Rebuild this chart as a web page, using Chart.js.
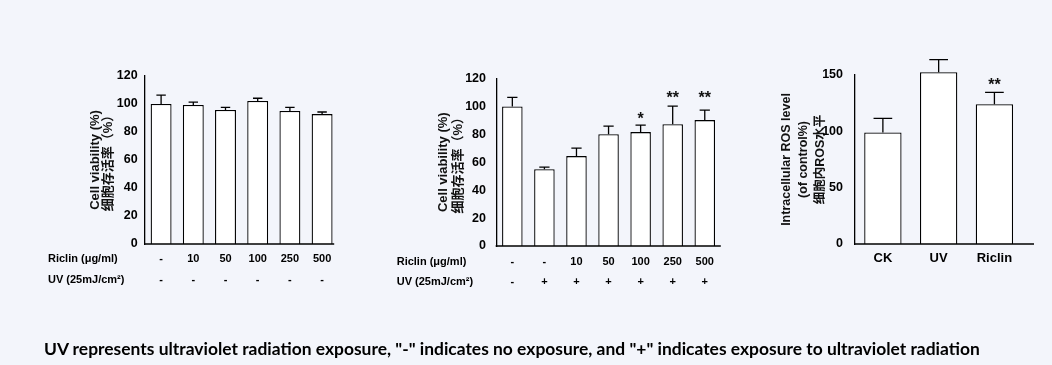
<!DOCTYPE html>
<html><head><meta charset="utf-8">
<script src="https://cdn.jsdelivr.net/npm/chart.js@4.4.1/dist/chart.umd.min.js"></script>
<style>
html,body{margin:0;padding:0;background:#f3f5fb;width:1052px;height:365px;overflow:hidden;}
canvas{position:absolute;left:0;top:0;}
#cap{position:absolute;left:44px;top:337px;font-family:Lato,'Liberation Sans',sans-serif;font-weight:700;font-size:17px;color:#000;white-space:nowrap;line-height:24px;}
</style></head><body>
<canvas id="c1" width="1052" height="365"></canvas>
<canvas id="c2" width="1052" height="365"></canvas>
<canvas id="c3" width="1052" height="365"></canvas>
<div id="cap">UV represents ultraviolet radiation exposure, "-" indicates no exposure, and "+" indicates exposure to ultraviolet radiation</div>
<script>
// ---- Panel 1: Riclin alone ----
const p1Riclin = ['-', '10', '50', '100', '250', '500'];
const p1UV     = ['-', '-', '-', '-', '-', '-'];
const p1Mean   = [100, 99.3, 95.7, 102.1, 95.0, 92.8];
const p1SD     = [6.4, 2.1, 1.9, 2.0, 2.6, 1.5];
const p1YTicks = {min: 0, max: 120, step: 20};

// ---- Panel 2: Riclin + UV ----
const p2Riclin = ['-', '-', '10', '50', '100', '250', '500'];
const p2UV     = ['-', '+', '+', '+', '+', '+', '+'];
const p2Mean   = [100, 55.0, 64.4, 80.1, 81.6, 87.3, 90.2];
const p2SD     = [6.5, 1.5, 5.7, 5.8, 5.0, 12.9, 7.2];
const p2Sig    = ['', '', '', '', '*', '**', '**'];
const p2SigY   = [null, null, null, null, 94, 109, 109];
const p2YTicks = {min: 0, max: 120, step: 20};

// ---- Panel 3: ROS ----
const p3Groups = ['CK', 'UV', 'Riclin'];
const p3Mean   = [99, 152.4, 124.0];
const p3SD     = [12.5, 11.2, 10.6];
const p3Sig    = ['', '', '**'];
const p3SigY   = [null, null, 145];
const p3YTicks = {min: 0, max: 150, step: 50};

const rowHeaders = ['Riclin (\u03bcg/ml)', 'UV (25mJ/cm\u00b2)'];

const FAM = "'Liberation Sans', Arial, 'Noto Sans CJK SC', sans-serif";

const barDeco = {
  id: 'barDeco',
  afterDatasetsDraw(chart, args, o) {
    const ctx = chart.ctx, meta = chart.getDatasetMeta(0), ys = chart.scales.y, xs = chart.scales.x;
    const ds = chart.data.datasets[0];
    const ca = chart.chartArea;
    ctx.save();
    ctx.strokeStyle = '#000';
    ctx.lineWidth = o.lineWidth;
    meta.data.forEach((bar, i) => {
      const top = ys.getPixelForValue(ds.data[i] + o.sd[i]);
      const half = bar.width * o.capRatio / 2;
      ctx.beginPath();
      ctx.moveTo(bar.x, bar.y);
      ctx.lineTo(bar.x, top);
      ctx.moveTo(bar.x - half, top);
      ctx.lineTo(bar.x + half, top);
      ctx.stroke();
      if (o.sig && o.sig[i]) {
        ctx.fillStyle = '#111';
        ctx.font = 'bold ' + o.sigSize + 'px ' + FAM;
        ctx.textAlign = 'center';
        ctx.textBaseline = 'alphabetic';
        const cy = ys.getPixelForValue(o.sigY[i]);
        ctx.fillText(o.sig[i], bar.x, cy + o.sigSize * 0.57);
      }
    });
    // x axis line
    ctx.beginPath();
    ctx.moveTo(ca.left - o.lineWidth / 2, ca.bottom);
    ctx.lineTo(ca.right + o.axisExtend, ca.bottom);
    ctx.stroke();
    // row headers
    if (o.headers) {
      ctx.fillStyle = '#000';
      ctx.font = 'bold ' + o.rowFont + 'px ' + FAM;
      ctx.textAlign = 'left';
      ctx.textBaseline = 'middle';
      o.headers.forEach((h, k) => {
        ctx.fillText(h, ca.left - o.headerOffset, xs.top + o.rowPad + o.rowLH / 2 + k * o.rowLH);
      });
    }
    ctx.restore();
  }
};

function makeChart(id, cfg) {
  return new Chart(document.getElementById(id), {
    type: 'bar',
    data: {
      labels: cfg.labels,
      datasets: [{
        data: cfg.mean,
        backgroundColor: '#ffffff',
        borderColor: '#000000',
        borderWidth: 1.3,
        borderSkipped: 'start',
        barPercentage: cfg.barPct,
        categoryPercentage: 1,
        clip: false
      }]
    },
    options: {
      responsive: false,
      animation: false,
      devicePixelRatio: 1,
      layout: {padding: cfg.pad},
      plugins: {
        legend: {display: false},
        tooltip: {enabled: false},
        barDeco: cfg.deco
      },
      scales: {
        x: {
          offset: true,
          grid: {display: false, drawTicks: false},
          border: {display: false},
          ticks: {
            padding: cfg.xPad, color: '#000', autoSkip: false, maxRotation: 0,
            font: {family: FAM, weight: 'bold', size: cfg.xFont, lineHeight: cfg.xLH + 'px'}
          },
          afterFit(s) { s.height = cfg.xH; }
        },
        y: {
          min: cfg.yTicks.min, max: cfg.yTicks.max,
          grid: {display: false, drawTicks: false},
          border: {display: true, color: '#000', width: 1.3},
          ticks: {
            stepSize: cfg.yTicks.step, padding: cfg.yPad, color: '#000',
            font: {family: FAM, weight: 'bold', size: 12.5}
          },
          title: {
            display: true, text: cfg.title, padding: 0, color: '#111',
            font: {family: FAM, weight: 'bold', size: cfg.titleSize, lineHeight: cfg.titleLH + 'px'}
          },
          afterFit(s) { s.width = cfg.yW; }
        }
      }
    },
    plugins: [barDeco]
  });
}

makeChart('c1', {
  labels: p1Riclin.map((r, i) => [r, p1UV[i]]),
  mean: p1Mean, barPct: 0.65, yTicks: p1YTicks,
  pad: {left: 88.6, right: 713.8, top: 76, bottom: 61},
  xH: 60, xPad: 4.5, xFont: 11, xLH: 21,
  yW: 56.4, yPad: 7.3,
  title: ['Cell viability (%)', '\u7ec6\u80de\u5b58\u6d3b\u7387\uff08%\uff09'], titleSize: 13, titleLH: 13,
  deco: {sd: p1SD, lineWidth: 1.3, capRatio: 0.45, axisExtend: -4, sigSize: 16,
         headers: rowHeaders, headerOffset: 97, rowFont: 11, rowPad: 4.5, rowLH: 21}
});

makeChart('c2', {
  labels: p2Riclin.map((r, i) => [r, p2UV[i]]),
  mean: p2Mean, barPct: 0.64, yTicks: p2YTicks,
  pad: {left: 435.5, right: 331.2, top: 78.5, bottom: 59},
  xH: 60, xPad: 5.7, xFont: 11, xLH: 20,
  yW: 60.8, yPad: 10.3,
  title: ['Cell viability (%)', '\u7ec6\u80de\u5b58\u6d3b\u7387\uff08%\uff09'], titleSize: 13, titleLH: 15,
  deco: {sd: p2SD, lineWidth: 1.3, capRatio: 0.5, axisExtend: 0, sig: p2Sig, sigY: p2SigY, sigSize: 16,
         headers: rowHeaders, headerOffset: 99.6, rowFont: 11, rowPad: 5.7, rowLH: 20}
});

makeChart('c3', {
  labels: p3Groups,
  mean: p3Mean, barPct: 0.67, yTicks: p3YTicks,
  pad: {left: 778.3, right: 29.7, top: 75, bottom: 61},
  xH: 60, xPad: 6.2, xFont: 13, xLH: 15.6,
  yW: 76.7, yPad: 12,
  title: ['Intracellular ROS level', '(of control%)', '\u7ec6\u80de\u5185ROS\u6c34\u5e73'], titleSize: 12.5, titleLH: 16.7,
  deco: {sd: p3SD, lineWidth: 1.3, capRatio: 0.5, axisExtend: 11.7, sig: p3Sig, sigY: p3SigY, sigSize: 16}
});

// fit caption to its measured width in the reference
(function () {
  const cap = document.getElementById('cap');
  const w = cap.getBoundingClientRect().width;
  const fs = 17 * 936 / w;
  cap.style.fontSize = fs.toFixed(2) + 'px';
})();
</script>
</body></html>
